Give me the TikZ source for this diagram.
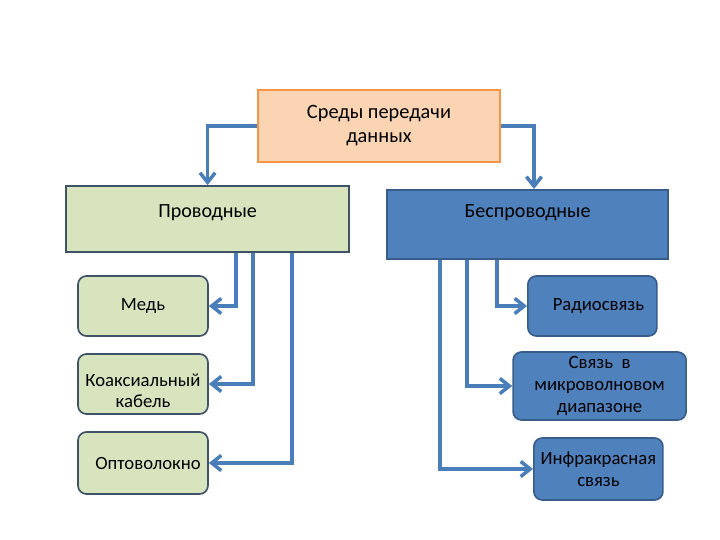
\documentclass[tikz,border=0pt]{standalone}
\usepackage{fontspec}
\setmainfont{Carlito}
\usetikzlibrary{arrows.meta}
\definecolor{peach}{HTML}{FBD4B4}
\definecolor{peachline}{HTML}{F79646}
\definecolor{olivefill}{HTML}{D7E4BD}
\definecolor{slateline}{HTML}{3F5368}
\definecolor{officeblue}{HTML}{4F81BD}
\definecolor{darkblue}{HTML}{385D8A}
\definecolor{linkblue}{HTML}{4A7EBB}
\begin{document}
\begin{tikzpicture}[every node/.style={font=\fontsize{13.3}{15.5}\selectfont},
  bigbox/.style={draw,line width=1.2pt,font=\fontsize{14.5}{17}\selectfont},
  leaf/.style={draw,line width=1.2pt,rounded corners=6pt,align=center,inner sep=1pt},
  link/.style={draw=linkblue,line width=2.5pt,-{Straight Barb[length=2.4mm,width=3.8mm]}}]
\useasboundingbox (0,0) rectangle (18,13.5);
\node[bigbox,draw=peachline,fill=peach,minimum width=6.05cm,minimum height=1.8cm,align=center] (media) at (9.475,10.35) {Среды передачи\\данных};
\node[bigbox,draw=slateline,fill=olivefill,minimum width=7.075cm,minimum height=1.65cm,label={[yshift=0.15cm,font=\fontsize{14.3}{17}\selectfont]center:Проводные}] (wired) at (5.19,8.025) {};
\node[bigbox,draw=darkblue,fill=officeblue,minimum width=7.025cm,minimum height=1.725cm,label={[yshift=0.29cm,font=\fontsize{14.3}{17}\selectfont]center:Беспроводные}] (wless) at (13.19,7.89) {};
\draw[link] (media.west) -| (wired.north);
\draw[link] (media.east) -| ([xshift=0.16cm]wless.north);
% wired media
\node[leaf,draw=slateline,fill=olivefill,minimum width=3.25cm,minimum height=1.5cm] (copper) at (3.575,5.85) {Медь};
\node[leaf,draw=slateline,fill=olivefill,minimum width=3.25cm,minimum height=1.5cm,label={[align=center,yshift=-0.17cm]center:Коаксиальный\\кабель}] (coax) at (3.575,3.9) {};
\node[leaf,draw=slateline,fill=olivefill,minimum width=3.25cm,minimum height=1.55cm] (fiber) at (3.575,1.925) {\hspace{0.25cm}Оптоволокно};
\draw[link] ([xshift=0.71cm]wired.south) |- (copper.east);
\draw[link] ([xshift=1.14cm]wired.south) |- (coax.east);
\draw[link] ([xshift=2.11cm]wired.south) |- (fiber.east);
% wireless media
\node[leaf,draw=darkblue,fill=officeblue,minimum width=3.225cm,minimum height=1.5cm] (radio) at (14.81,5.85) {\hspace{0.3cm}Радиосвязь};
\node[leaf,draw=darkblue,fill=officeblue,minimum width=4.325cm,minimum height=1.7cm] (micro) at (14.99,3.85) {Связь~ в\\микроволновом\\диапазоне};
\node[leaf,draw=darkblue,fill=officeblue,minimum width=3.225cm,minimum height=1.55cm] (infra) at (14.96,1.775) {Инфракрасная\\связь};
\draw[link] ([xshift=-0.76cm]wless.south) |- (radio.west);
\draw[link] ([xshift=-1.51cm]wless.south) |- (micro.west);
\draw[link] ([xshift=-2.19cm]wless.south) |- (infra.west);
\end{tikzpicture}
\end{document}
